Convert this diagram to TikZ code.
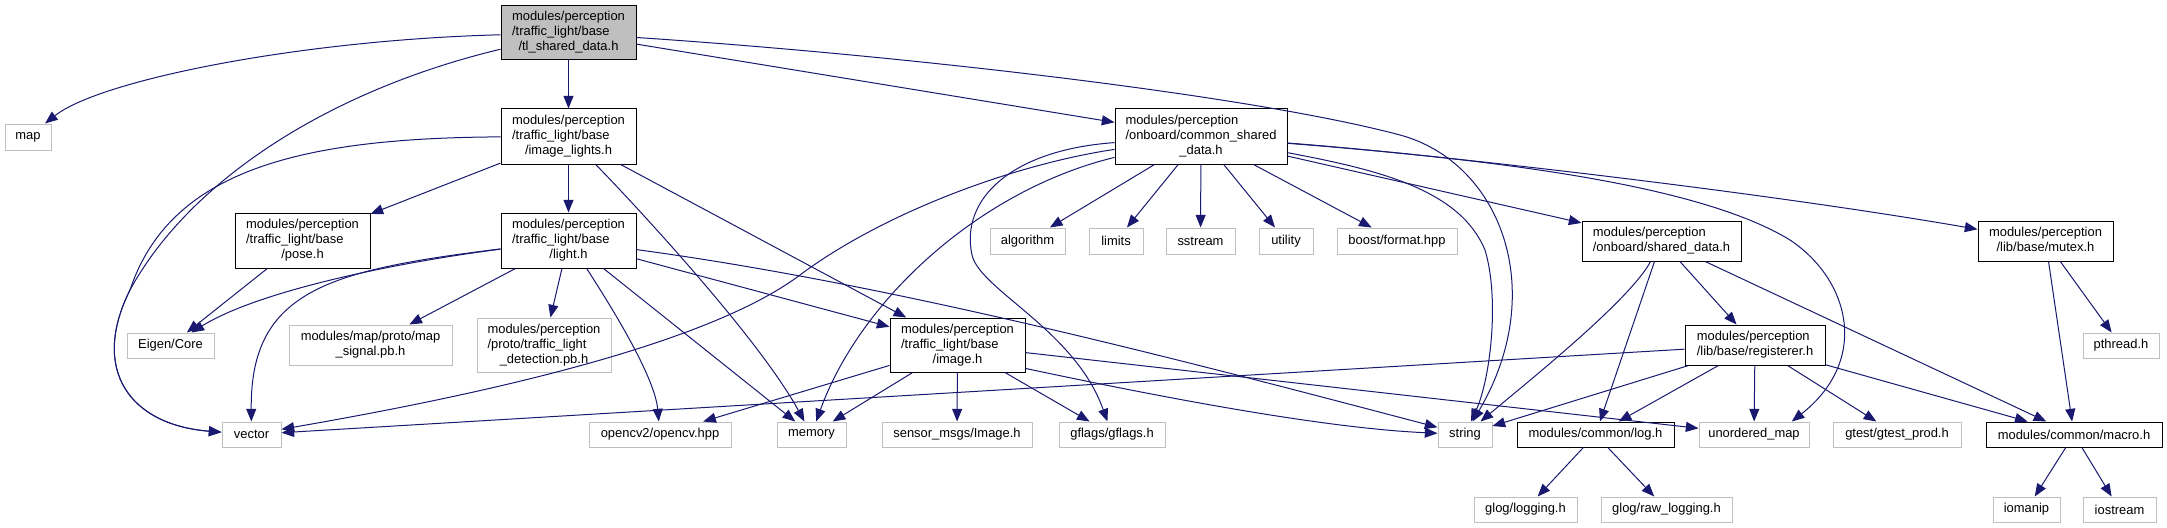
\documentclass[tikz,border=0pt]{standalone}
\usepackage{fontspec}
\setmainfont{Liberation Sans}
\usetikzlibrary{arrows.meta}
\definecolor{edgeblue}{HTML}{191970}
\definecolor{extgray}{HTML}{BFBFBF}
\newcommand{\dxlast}[1]{\multicolumn{1}{@{}c@{}}{#1}}
\newcommand{\dxlbl}[1]{\begin{tabular}{@{}l@{}}#1\end{tabular}}
\begin{document}
\begin{tikzpicture}[x=0.75pt,y=-0.75pt,
  box/.style={rectangle, inner sep=0pt, font=\fontsize{9.7}{11.25}\selectfont, line width=0.75pt, fill=white},
  doc/.style={box, draw=black},
  root/.style={box, draw=black, fill=extgray},
  ext/.style={box, draw=extgray},
  sz/.style 2 args={minimum width=#1*0.75pt, minimum height=#2*0.75pt},
  dep/.style={color=edgeblue, line width=0.75pt, -{Triangle[length=9.5pt,width=7.5pt]}},
]
\fill[white] (0,0) rectangle (2167,528);
\useasboundingbox (0,0) rectangle (2167,528);

% row 1
\node[root, sz={135}{54}] (tl) at (568.5,33) {\dxlbl{modules/perception\\/traffic\_light/base\\\dxlast{/tl\_shared\_data.h}}};
% row 2
\node[ext, sz={46}{26}] (map) at (28,137) {map};
\node[doc, sz={135}{55}] (il) at (568.5,136.5) {\dxlbl{modules/perception\\/traffic\_light/base\\\dxlast{/image\_lights.h}}};
\node[doc, sz={172}{55}] (cs) at (1201,136.5) {\dxlbl{modules/perception\\/onboard/common\_shared\\\dxlast{\_data.h}}};
% row 3
\node[doc, sz={135}{55}] (pose) at (302.5,240.5) {\dxlbl{modules/perception\\/traffic\_light/base\\\dxlast{/pose.h}}};
\node[doc, sz={135}{55}] (light) at (568.5,240.5) {\dxlbl{modules/perception\\/traffic\_light/base\\\dxlast{/light.h}}};
\node[ext, sz={75}{26}] (alg) at (1027.5,241) {algorithm};
\node[ext, sz={54}{26}] (lim) at (1116,241) {limits};
\node[ext, sz={69}{26}] (sst) at (1200.5,241) {sstream};
\node[ext, sz={54}{26}] (util) at (1286,241) {utility};
\node[ext, sz={120}{26}] (boost) at (1397,241) {boost/format.hpp};
\node[doc, sz={159}{40}] (sd) at (1661.5,241) {\dxlbl{modules/perception\\\dxlast{/onboard/shared\_data.h}}};
\node[doc, sz={135}{40}] (mutex) at (2045.5,241) {\dxlbl{modules/perception\\\dxlast{/lib/base/mutex.h}}};
% row 4
\node[ext, sz={87}{25}] (eigen) at (170.5,345.5) {Eigen/Core};
\node[ext, sz={163}{40}] (mapsig) at (370.5,345) {\dxlbl{modules/map/proto/map\\\dxlast{\_signal.pb.h}}};
\node[ext, sz={134}{54}] (det) at (544,345) {\dxlbl{modules/perception\\/proto/traffic\_light\\\dxlast{\_detection.pb.h}}};
\node[doc, sz={135}{54}] (img) at (957.5,345) {\dxlbl{modules/perception\\/traffic\_light/base\\\dxlast{/image.h}}};
\node[doc, sz={140}{40}] (reg) at (1755,345) {\dxlbl{modules/perception\\\dxlast{/lib/base/registerer.h}}};
\node[ext, sz={76}{25}] (pth) at (2121,345.5) {pthread.h};
% row 5
\node[ext, sz={59}{25}] (vec) at (251.5,434.5) {vector};
\node[ext, sz={142}{25}] (ocv) at (660,434.5) {opencv2/opencv.hpp};
\node[ext, sz={69}{25}] (mem) at (811.5,434.5) {memory};
\node[ext, sz={150}{25}] (sens) at (957,434.5) {sensor\_msgs/Image.h};
\node[ext, sz={106}{25}] (gfl) at (1112,434.5) {gflags/gflags.h};
\node[ext, sz={54}{25}] (str) at (1465,434.5) {string};
\node[doc, sz={157}{25}] (logh) at (1595.5,434.5) {modules/common/log.h};
\node[ext, sz={110}{25}] (umap) at (1754,434.5) {unordered\_map};
\node[ext, sz={128}{25}] (gtest) at (1897,434.5) {gtest/gtest\_prod.h};
\node[doc, sz={176}{25}] (macro) at (2074,434.5) {modules/common/macro.h};
% row 6
\node[ext, sz={103}{25}] (glog) at (1525.5,509.5) {glog/logging.h};
\node[ext, sz={131}{25}] (rawlog) at (1666.5,509.5) {glog/raw\_logging.h};
\node[ext, sz={67}{25}] (iomanip) at (2026.5,509.5) {iomanip};
\node[ext, sz={73}{25}] (iostream) at (2119.5,509.5) {iostream};

% tl_shared_data.h
\draw[dep] (tl) .. controls (300,40) and (100,80) .. (map);
\draw[dep] (tl) .. controls (330,90) and (190,180) .. (130,290) .. controls (90,370) and (130,425) .. (vec);
\draw[dep] (tl) -- (il);
\draw[dep] (tl) -- (cs);
\draw[dep] (tl) .. controls (900,55) and (1250,95) .. (1400,135) .. controls (1500,162) and (1550,290) .. (str);

% image_lights.h
\draw[dep] (il) -- (pose);
\draw[dep] (il) -- (light);
\draw[dep] (il) .. controls (300,138) and (170,170) .. (130,290) .. controls (90,370) and (130,425) .. (vec);
\draw[dep] (il) .. controls (640,210) and (760,340) .. (mem);
\draw[dep] (il) -- (img);

% pose.h
\draw[dep] (pose) -- (eigen);

% light.h
\draw[dep] (light) .. controls (400,262) and (260,290) .. (eigen);
\draw[dep] (light) .. controls (330,270) and (250,290) .. (vec);
\draw[dep] (light) -- (mapsig);
\draw[dep] (light) -- (det);
\draw[dep] (light) .. controls (620,320) and (655,380) .. (ocv);
\draw[dep] (light) -- (mem);
\draw[dep] (light) -- (img);
\draw[dep] (light) .. controls (900,285) and (1200,365) .. (str);

% common_shared_data.h
\draw[dep] (cs) .. controls (1010,165) and (880,215) .. (800,275) .. controls (700,350) and (450,400) .. (vec);
\draw[dep] (cs) .. controls (980,190) and (860,300) .. (mem);
\draw[dep] (cs) .. controls (1010,150) and (960,200) .. (972,255) .. controls (980,290) and (1075,330) .. (gfl);
\draw[dep] (cs) -- (alg);
\draw[dep] (cs) -- (lim);
\draw[dep] (cs) -- (sst);
\draw[dep] (cs) -- (util);
\draw[dep] (cs) -- (boost);
\draw[dep] (cs) .. controls (1380,170) and (1460,190) .. (1485,250) .. controls (1500,300) and (1490,380) .. (str);
\draw[dep] (cs) -- (sd);
\draw[dep] (cs) .. controls (1420,153) and (1750,190) .. (mutex);
\draw[dep] (cs) .. controls (1500,160) and (1700,185) .. (1790,240) .. controls (1850,280) and (1870,360) .. (umap.19);

% image.h
\draw[dep] (img) -- (ocv);
\draw[dep] (img) -- (mem);
\draw[dep] (img) -- (sens);
\draw[dep] (img) -- (gfl);
\draw[dep] (img.-19) .. controls (1150,395) and (1320,428) .. (str);
\draw[dep] (img) -- (umap);

% shared_data.h
\draw[dep] (sd) .. controls (1630,300) and (1530,380) .. (str);
\draw[dep] (sd) -- (logh);
\draw[dep] (sd) -- (reg);
\draw[dep] (sd) -- (macro);

% registerer.h
\draw[dep] (reg) -- (vec);
\draw[dep] (reg) -- (str);
\draw[dep] (reg) -- (logh);
\draw[dep] (reg) -- (umap);
\draw[dep] (reg) -- (gtest);
\draw[dep] (reg) -- (macro);

% mutex.h
\draw[dep] (mutex) -- (pth);
\draw[dep] (mutex) -- (macro);

% macro.h / log.h
\draw[dep] (macro) -- (iomanip);
\draw[dep] (macro) -- (iostream);
\draw[dep] (logh) -- (glog);
\draw[dep] (logh) -- (rawlog);
\end{tikzpicture}
\end{document}
